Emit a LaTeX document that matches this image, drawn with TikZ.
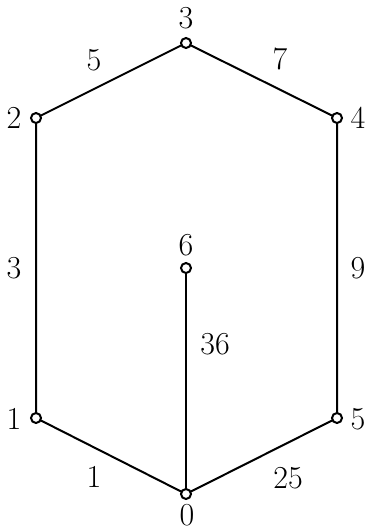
\documentclass[tikz,border=0pt]{standalone}
\usepackage{fontspec}
\begin{document}
\begin{tikzpicture}[x=1pt,y=-1pt,
  vert/.style={circle,draw,fill=white,line width=2pt,minimum size=10pt,inner sep=0pt},
  lbl/.style={inner sep=0pt,font=\fontsize{32}{38}\selectfont},
  edge/.style={line width=2pt}]
\useasboundingbox (0,0) rectangle (366,531);
\coordinate (p3) at (186,43);
\coordinate (p2) at (36,118);
\coordinate (p4) at (337,118);
\coordinate (p6) at (186,268);
\coordinate (p1) at (36,418);
\coordinate (p5) at (337,418);
\coordinate (p0) at (186,494);
\draw[edge] (p1) -- (p2) -- (p3) -- (p4) -- (p5) -- (p0) -- (p1);
\draw[edge] (p0) -- (p6);
\node[vert] (n3) at (p3) {};
\node[vert] (n2) at (p2) {};
\node[vert] (n4) at (p4) {};
\node[vert] (n6) at (p6) {};
\node[vert] (n1) at (p1) {};
\node[vert] (n5) at (p5) {};
\node[vert] (n0) at (p0) {};
\node[lbl] (l3) at (186,18) {3};
\node[lbl] (l2) at (14,118) {2};
\node[lbl] (l4) at (358,118) {4};
\node[lbl] (l6) at (186,245) {6};
\node[lbl] (l1) at (14,419) {1};
\node[lbl] (l5) at (358,419) {5};
\node[lbl] (l0) at (187,515) {0};
\node[lbl] (e23) at (94,60) {5};
\node[lbl] (e34) at (280,59) {7};
\node[lbl] (e12) at (14,268) {3};
\node[lbl] (e45) at (358,268) {9};
\node[lbl] (e06) at (215,344) {36};
\node[lbl] (e01) at (94,477) {1};
\node[lbl] (e05) at (288,478) {25};
\end{tikzpicture}
\end{document}
